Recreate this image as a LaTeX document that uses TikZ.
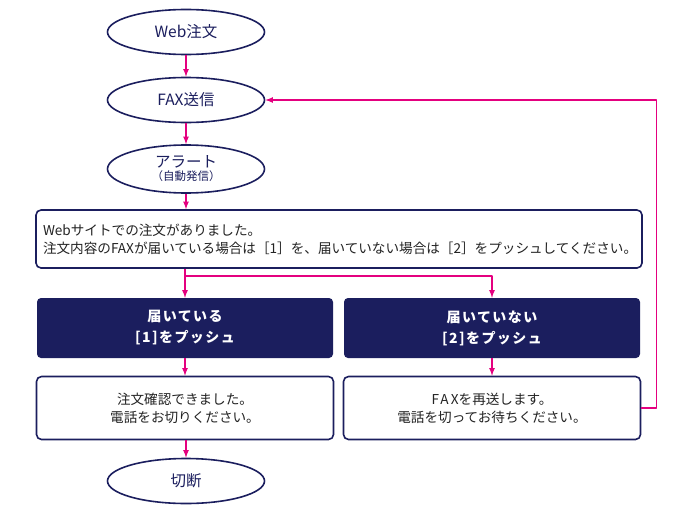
\documentclass[tikz,border=0pt]{standalone}
\usepackage{fontspec}
\setmainfont{Noto Sans CJK JP}
\usetikzlibrary{shapes.geometric}

\definecolor{navyline}{RGB}{27,30,94}
\definecolor{arrowpink}{RGB}{228,0,127}
\definecolor{bodytext}{RGB}{35,35,35}

\begin{document}
\begin{tikzpicture}[x=1pt,y=-1pt,line cap=round,line join=round,
    terminal/.style={ellipse,draw=navyline,line width=1.6pt,fill=white,
        minimum width=157pt,minimum height=45pt,inner sep=0pt,
        text=navyline,font=\fontsize{15.5}{17}\selectfont,align=center},
    msgbox/.style={rectangle,rounded corners=5pt,draw=navyline,line width=1.6pt,
        fill=white,text=bodytext,font=\fontsize{13.6}{18}\selectfont,inner sep=0pt},
    keybox/.style={rectangle,rounded corners=4pt,fill=navyline,text=white,
        minimum width=296pt,minimum height=60pt,inner sep=0pt,align=center,
        font=\fontsize{14}{21}\selectfont\bfseries\addfontfeatures{LetterSpace=10}},
    flow/.style={draw=arrowpink,line width=1.6pt,-latex,line cap=butt}]

    \useasboundingbox (0,0) rectangle (700,511);

    % ellipses
    \node[terminal] (web) at (186,32) {Web注文};
    \node[terminal] (fax) at (186,100) {FAX送信};
    \node[terminal,minimum height=48pt] (alert) at (186,169)
        {アラート\\[-4pt]{\fontsize{11.5}{13}\selectfont （自動発信）}};

    % message
    \node[msgbox,minimum width=606pt,minimum height=58pt,align=left,
        text width=592pt] (msg) at (339,239)
        {Webサイトでの注文がありました。\\
         注文内容のFAXが届いている場合は［1］を、届いていない場合は［2］をプッシュしてください。};

    % keys
    \node[keybox] (yes) at (185,328) {届いている\\{}[1]をプッシュ};
    \node[keybox] (no) at (492,328) {届いていない\\{}[2]をプッシュ};

    % replies
    \node[msgbox,minimum width=297pt,minimum height=63pt,align=center] (ok) at (185,408)
        {注文確認できました。\\電話をお切りください。};
    \node[msgbox,minimum width=297pt,minimum height=63pt,align=center] (resend) at (492,408)
        {{\addfontfeatures{LetterSpace=15}FAX}を再送します。\\電話を切ってお待ちください。};

    \node[terminal] (cut) at (186,481) {切断};

    \coordinate (split) at (186,276);

    % connectors
    \draw[flow] (web) -- (fax);
    \draw[flow] (fax) -- (alert);
    \draw[flow] (alert.south) -- (alert.south |- msg.north);
    \draw[flow] (msg.south -| yes.north) -- (yes.north);
    \draw[flow] (split) -| (no.north);
    \draw[flow] (yes) -- (ok);
    \draw[flow] (no) -- (resend);
    \draw[flow] (ok.south -| cut.north) -- (cut.north);
    \draw[flow] (resend.east) -- ++(15,0) |- (fax.east);
\end{tikzpicture}
\end{document}
